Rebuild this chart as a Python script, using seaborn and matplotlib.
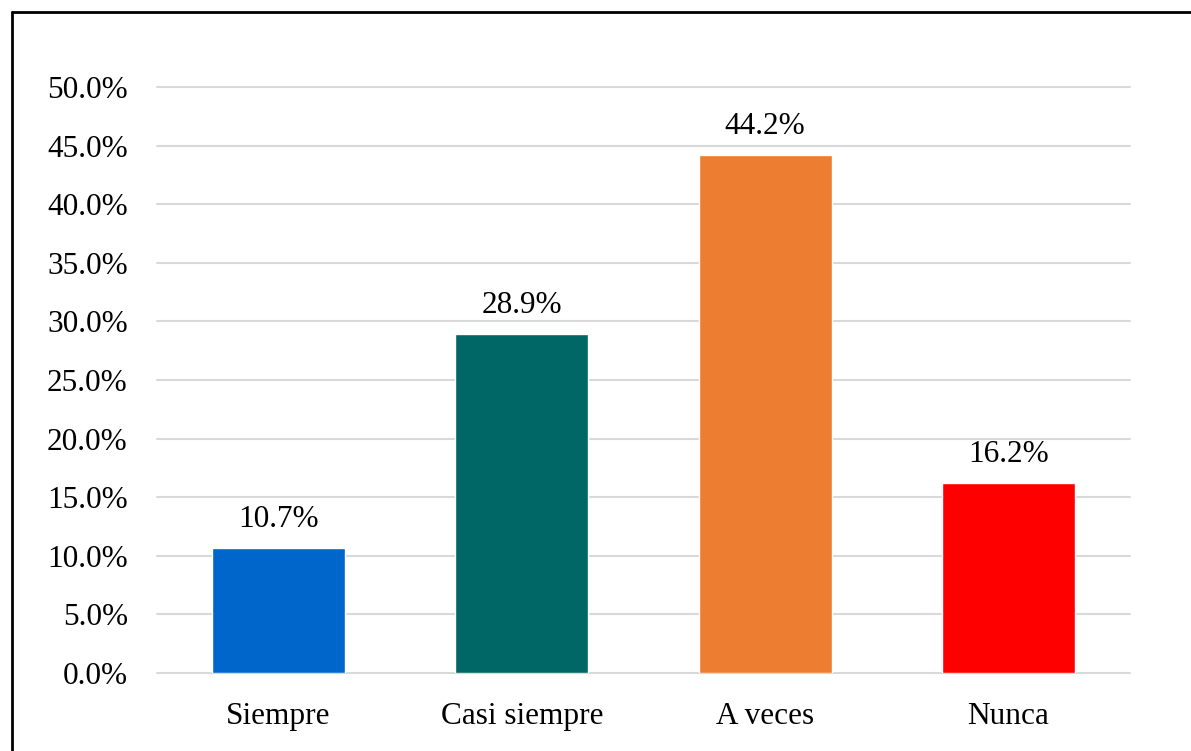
import matplotlib
matplotlib.use("Agg")
import matplotlib.pyplot as plt
import matplotlib.lines as mlines
import seaborn as sns
import pandas as pd

categories = ["Siempre", "Casi siempre", "A veces", "Nunca"]
values = [10.7, 28.9, 44.2, 16.2]
colors = ["#0066CC", "#006666", "#ED7D31", "#FF0000"]
yticks = [0, 5, 10, 15, 20, 25, 30, 35, 40, 45, 50]

sns.set_style("white")
plt.rcParams["font.family"] = ["Liberation Serif", "DejaVu Serif"]
plt.rcParams["text.color"] = "black"

df = pd.DataFrame({"cat": categories, "val": values})

fig = plt.figure(figsize=(11.91, 7.51), dpi=100)
ax = fig.add_axes([0.1318, 0.1039, 0.817, 0.7803])

sns.barplot(data=df, x="cat", y="val", hue="cat", palette=colors,
            width=0.547, legend=False, ax=ax, saturation=1)

ax.set_ylim(0, 50)
ax.set_yticks(yticks)
ax.set_yticklabels([f"{t:.1f}%" for t in yticks])
ax.set_xlim(-0.5, len(categories) - 0.5)
ax.yaxis.grid(True, color="#d9d9d9", linewidth=1.5)
for gl in ax.get_ygridlines():
    gl.set_clip_on(False)
ax.set_axisbelow(True)
for s in ax.spines.values():
    s.set_visible(False)
ax.tick_params(axis="both", length=0, labelsize=22.5, colors="black")
ax.tick_params(axis="y", pad=21)
ax.tick_params(axis="x", pad=21)
ax.set_xlabel("")
ax.set_ylabel("")

for i, v in enumerate(values):
    ax.annotate(f"{v:.1f}%", (i, v), xytext=(0, 10), textcoords="offset points",
                ha="center", va="bottom", fontsize=22.5, color="black")

# frame lines on the top and left edges
fig.add_artist(mlines.Line2D([12 / 1191, 12 / 1191], [0, 1 - 12 / 751],
                             transform=fig.transFigure, color="black", linewidth=2))
fig.add_artist(mlines.Line2D([12 / 1191, 1], [1 - 12 / 751, 1 - 12 / 751],
                             transform=fig.transFigure, color="black", linewidth=2))

fig.savefig("out.png", dpi=100)
